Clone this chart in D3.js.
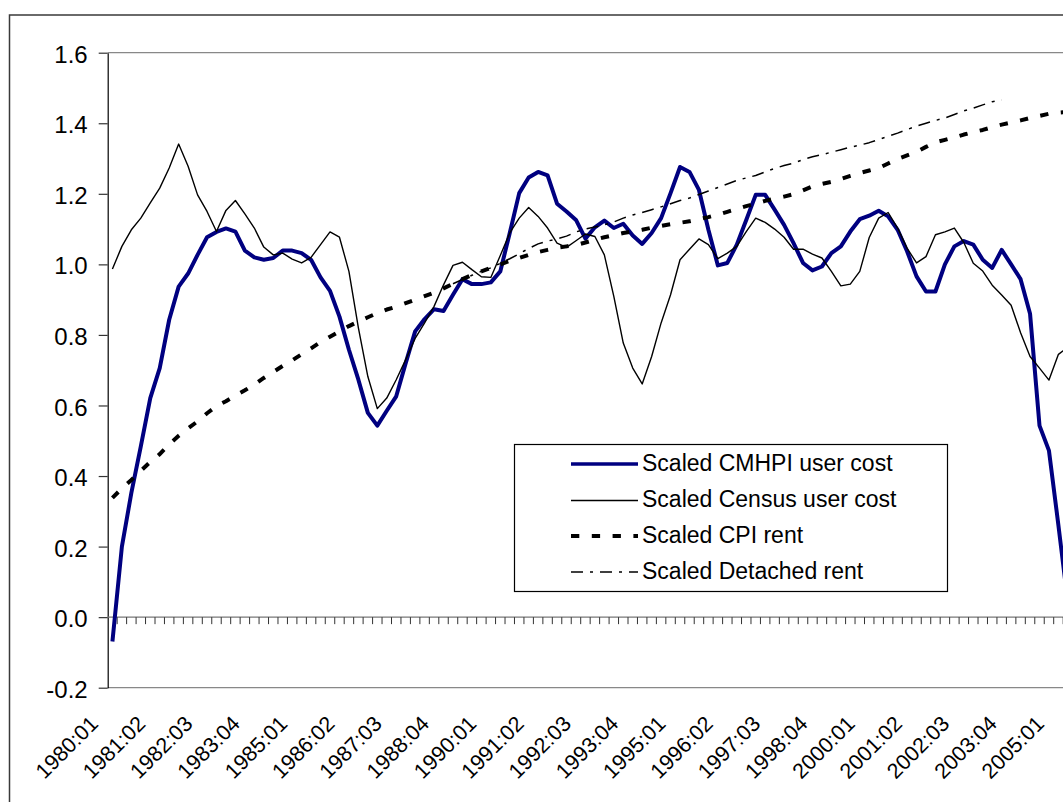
<!DOCTYPE html>
<html><head><meta charset="utf-8">
<script src="https://cdn.jsdelivr.net/npm/d3@7"></script>
<style>
body{margin:0;background:#fff}
svg{display:block}
text{font-family:"Liberation Sans",Arial,sans-serif;fill:#000}
</style>
</head><body>
<svg id="chart" width="1063" height="802"></svg>
<script>
// ---------- data ----------
const years = [1980,1981,1982,1983,1984,1985,1986,1987,1988,1989,1990,1991,1992,1993,1994,1995,1996,1997,1998,1999,2000,2001,2002,2003,2004,2005];
const quarterNames = ["01","02","03","04"];
const categories = [];
years.forEach(y => quarterNames.forEach(q => categories.push(y + ":" + q)));
categories.length = 102; // 1980:01 .. 2005:02

const xTickLabels = ["1980:01","1981:02","1982:03","1983:04","1985:01","1986:02","1987:03","1988:04","1990:01","1991:02","1992:03","1993:04","1995:01","1996:02","1997:03","1998:04","2000:01","2001:02","2002:03","2003:04","2005:01"];
const yTicks = [-0.2,0.0,0.2,0.4,0.6,0.8,1.0,1.2,1.4,1.6];

const seriesNames = ["Scaled CMHPI user cost","Scaled Census user cost","Scaled CPI rent","Scaled Detached rent"];

const cmhpi = [-0.069,0.20,0.352,0.484,0.621,0.706,0.843,0.937,0.974,1.027,
 1.077,1.092,1.102,1.093,1.039,1.020,1.013,1.018,1.039,1.039,
 1.032,1.013,0.963,0.925,0.852,0.758,0.673,0.579,0.543,0.585,
 0.626,0.720,0.810,0.845,0.873,0.868,0.914,0.958,0.944,0.944,
 0.949,0.980,1.089,1.202,1.246,1.262,1.252,1.172,1.150,1.126,
 1.073,1.105,1.124,1.103,1.115,1.082,1.058,1.089,1.131,1.202,
 1.276,1.262,1.211,1.098,0.997,1.004,1.056,1.126,1.197,1.197,
 1.155,1.112,1.060,1.004,0.983,0.994,1.032,1.051,1.093,1.128,
 1.138,1.152,1.136,1.098,1.037,0.966,0.923,0.923,1.000,1.051,
 1.066,1.056,1.013,0.990,1.041,1.000,0.958,0.860,0.543,0.472,
 0.260,0.040];

const census = [0.987,1.051,1.098,1.131,1.174,1.216,1.273,1.341,1.278,1.197,
 1.150,1.093,1.153,1.181,1.143,1.103,1.049,1.027,1.032,1.015,
 1.004,1.020,1.056,1.092,1.077,0.980,0.820,0.682,0.591,0.621,
 0.673,0.730,0.790,0.834,0.881,0.942,0.997,1.006,0.985,0.965,
 0.963,1.025,1.089,1.131,1.161,1.136,1.103,1.060,1.048,1.067,
 1.086,1.079,1.027,0.909,0.777,0.706,0.661,0.739,0.834,0.914,
 1.013,1.043,1.072,1.056,1.016,1.032,1.051,1.093,1.131,1.119,
 1.100,1.077,1.043,1.043,1.029,1.018,0.980,0.939,0.944,0.980,
 1.076,1.131,1.147,1.103,1.046,1.004,1.022,1.084,1.092,1.103,
 1.062,1.003,0.981,0.941,0.913,0.884,0.806,0.739,0.706,0.672,
 0.745,0.765];

const cpiRent = [0.338,0.365,0.389,0.415,0.440,0.462,0.490,0.514,0.535,0.555,
 0.578,0.598,0.612,0.628,0.643,0.659,0.678,0.695,0.712,0.728,
 0.745,0.762,0.780,0.795,0.810,0.825,0.838,0.850,0.862,0.872,
 0.880,0.890,0.900,0.910,0.920,0.932,0.945,0.958,0.970,0.980,
 0.990,1.000,1.010,1.018,1.027,1.035,1.041,1.047,1.051,1.055,
 1.062,1.070,1.077,1.083,1.089,1.093,1.098,1.104,1.109,1.114,
 1.118,1.122,1.128,1.134,1.141,1.149,1.157,1.165,1.172,1.180,
 1.186,1.192,1.199,1.210,1.221,1.228,1.234,1.242,1.251,1.259,
 1.266,1.273,1.286,1.299,1.309,1.319,1.333,1.346,1.353,1.360,
 1.368,1.375,1.381,1.389,1.396,1.402,1.408,1.415,1.421,1.427,
 1.430,1.432];

const detachedStart = "1989:01";
const detachedRent = [0.945,0.957,0.969,0.980,0.990,1.003,1.016,1.030,1.045,1.058,
 1.066,1.072,1.080,1.092,1.100,1.106,1.112,1.120,1.131,1.140,
 1.147,1.155,1.163,1.172,1.181,1.188,1.198,1.208,1.218,1.228,
 1.238,1.245,1.252,1.262,1.272,1.280,1.287,1.297,1.305,1.311,
 1.318,1.325,1.332,1.338,1.345,1.354,1.363,1.372,1.382,1.392,
 1.400,1.408,1.415,1.425,1.435,1.443,1.452,1.461,1.466];

// ---------- layout ----------
const svg = d3.select("#chart");
const W = 1063, H = 802;
const plot = {left: 107.7, top: 52.7, bottom: 687.7, band: 9.46};
const plotRight = plot.left + categories.length * plot.band;

const x = d3.scaleBand().domain(categories).range([plot.left, plotRight]).padding(0);
const cx = c => x(c) + x.bandwidth() / 2;
const y = d3.scaleLinear().domain([-0.2, 1.6]).range([plot.bottom, plot.top]);

svg.append("rect").attr("width", W).attr("height", H).attr("fill", "#fff");

// outer chart border
svg.append("rect").attr("x", 9.5).attr("y", 15).attr("width", 1200).attr("height", 1000)
  .attr("fill", "none").attr("stroke", "#3a3a3a").attr("stroke-width", 1.5);

// plot frame lines (top, bottom)
svg.append("line").attr("x1", plot.left).attr("x2", plotRight).attr("y1", y(1.6)).attr("y2", y(1.6))
  .attr("stroke", "#888").attr("stroke-width", 1.3);
svg.append("line").attr("x1", plot.left).attr("x2", plotRight).attr("y1", y(-0.2)).attr("y2", y(-0.2))
  .attr("stroke", "#888").attr("stroke-width", 1.3);

// y axis
const yAxis = d3.axisLeft(y).tickValues(yTicks).tickFormat(d => d.toFixed(1))
  .tickSize(9).tickSizeOuter(0).tickPadding(11);
const gy = svg.append("g").attr("transform", `translate(${plot.left},0)`).call(yAxis);
gy.select(".domain").attr("stroke", "#000").attr("stroke-width", 1.2);
gy.selectAll(".tick line").attr("stroke", "#333").attr("stroke-width", 1.2);
gy.selectAll(".tick text").attr("font-size", 24).attr("dy", "0.4em")
  .attr("font-family", "Liberation Sans, Arial, sans-serif").attr("fill", "#000");

// x axis at zero with category boundary ticks
svg.append("line").attr("x1", plot.left).attr("x2", plotRight).attr("y1", y(0)).attr("y2", y(0))
  .attr("stroke", "#777").attr("stroke-width", 1.3);
svg.append("g").selectAll("line").data(categories.slice(1)).join("line")
  .attr("x1", d => x(d)).attr("x2", d => x(d))
  .attr("y1", y(0)).attr("y2", y(0) + 7)
  .attr("stroke", "#333").attr("stroke-width", 1);

// x labels
svg.append("g").selectAll("text").data(xTickLabels).join("text")
  .attr("transform", d => `translate(${cx(d) - 13},725) rotate(-45)`)
  .attr("text-anchor", "end").attr("font-size", 21.5).text(d => d);

// ---------- series ----------
const line = d3.line().x(d => cx(d.c)).y(d => y(d.v)).defined(d => d.v != null);
const toPts = (vals, start) => {
  const s = categories.indexOf(start);
  return vals.map((v, i) => ({c: categories[s + i], v}));
};

const styles = [
  {data: toPts(cmhpi, "1980:01"), stroke: "#000080", width: 4, dash: null},
  {data: toPts(census, "1980:01"), stroke: "#000", width: 1.4, dash: null},
  {data: toPts(cpiRent, "1980:01"), stroke: "#000", width: 4, dash: "8.3,12.5"},
  {data: toPts(detachedRent, detachedStart), stroke: "#000", width: 1.5, dash: "12,7,3,7"}
];

svg.append("clipPath").attr("id", "plotclip").append("rect")
  .attr("x", plot.left).attr("y", plot.top - 5).attr("width", plotRight - plot.left).attr("height", plot.bottom - plot.top + 10);

const gLines = svg.append("g").attr("clip-path", "url(#plotclip)");
styles.forEach(s => {
  gLines.append("path").datum(s.data).attr("d", line)
    .attr("fill", "none").attr("stroke", s.stroke).attr("stroke-width", s.width)
    .attr("stroke-linejoin", "round").attr("stroke-dasharray", s.dash);
});

// ---------- legend ----------
const lg = svg.append("g");
lg.append("rect").attr("x", 514.5).attr("y", 444.5).attr("width", 433).attr("height", 147)
  .attr("fill", "#fff").attr("stroke", "#000").attr("stroke-width", 1.2);
const rowY = [464, 500.5, 536, 572];
seriesNames.forEach((n, i) => {
  const s = styles[i];
  lg.append("line").attr("x1", 571).attr("x2", 638).attr("y1", rowY[i]).attr("y2", rowY[i])
    .attr("stroke", s.stroke).attr("stroke-width", i === 0 ? 3.6 : s.width).attr("stroke-dasharray", s.dash);
  lg.append("text").attr("x", 642).attr("y", rowY[i] + 6.5).attr("font-size", 23).text(n);
});
</script>
</body></html>
